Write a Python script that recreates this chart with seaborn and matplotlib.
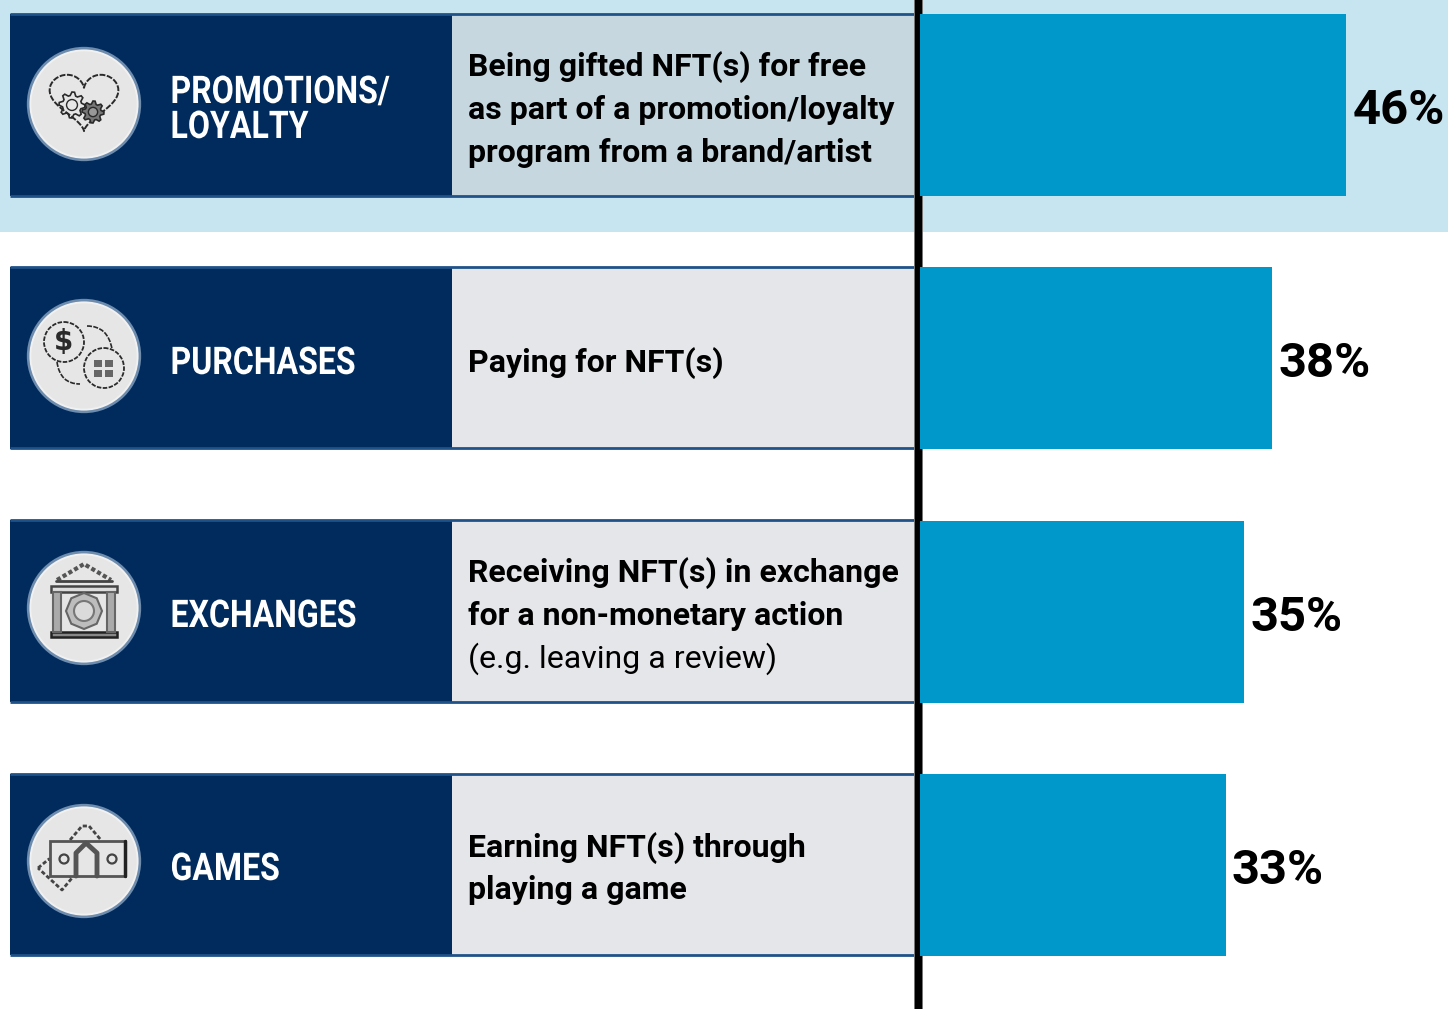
import numpy as np
import pandas as pd
import matplotlib
matplotlib.use("Agg")
import matplotlib.pyplot as plt
import seaborn as sns
from matplotlib.patches import Circle, Rectangle, RegularPolygon, PathPatch, Polygon
from matplotlib.path import Path
from matplotlib.patheffects import AbstractPathEffect
from matplotlib.transforms import Affine2D

categories = ["PROMOTIONS/\nLOYALTY", "PURCHASES", "EXCHANGES", "GAMES"]
shares = [46, 38, 35, 33]
label_lines = [["PROMOTIONS/", "LOYALTY"], ["PURCHASES"], ["EXCHANGES"], ["GAMES"]]
desc_lines = [
    ["Being gifted NFT(s) for free", "as part of a promotion/loyalty", "program from a brand/artist"],
    ["Paying for NFT(s)"],
    ["Receiving NFT(s) in exchange", "for a non-monetary action", "(e.g. leaving a review)"],
    ["Earning NFT(s) through", "playing a game"],
]
desc_weights = [
    ["bold", "bold", "bold"],
    ["bold"],
    ["bold", "bold", "normal"],
    ["bold", "bold"],
]

W, H = 1448, 1009
NAVY = "#002B5C"
NAVY_EDGE = "#1F5288"
BLUE = "#0098CB"
PALE = "#C7E5F1"
GREY = "#E4E6E9"
GREY_HI = "#C6D7DF"
ICON = "#2A2A2A"

row_top = [14.3, 267, 520.3, 773.5]
row_h = 182
label_base = [[103, 138], [374], [627], [880]]
desc_base = [[76, 119, 162], [372], [582, 625, 668], [857, 899]]
icon_y = [104, 356, 608, 861]


class Squeeze(AbstractPathEffect):
    # no condensed font here, so narrow the glyphs about the text's left edge
    def __init__(self, x0, factor):
        super().__init__()
        self.x0 = x0
        self.factor = factor

    def draw_path(self, renderer, gc, tpath, affine, rgbFace=None):
        squeeze = Affine2D().translate(-self.x0, 0).scale(self.factor, 1).translate(self.x0, 0)
        renderer.draw_path(gc, tpath, affine + squeeze, rgbFace)


def gear(ax, cx, cy, r, fill):
    ang = np.linspace(0, 2 * np.pi, 32, endpoint=False)
    rad = np.where(np.arange(32) % 4 < 2, r, r * 0.74)
    pts = np.column_stack([cx + rad * np.cos(ang), cy + rad * np.sin(ang)])
    ax.add_patch(Polygon(pts, closed=True, fc=fill, ec=ICON, lw=1.2, zorder=5))
    ax.add_patch(Circle((cx, cy), r * 0.42, fc="#E6E6E6" if fill == "none" else "#999999", ec=ICON, lw=1.0, zorder=6))


def heart(ax, cx, cy):
    t = np.linspace(0, 2 * np.pi, 80)
    x = 16 * np.sin(t) ** 3
    y = 13 * np.cos(t) - 5 * np.cos(2 * t) - 2 * np.cos(3 * t) - np.cos(4 * t)
    ax.plot(cx + x * 2.15, cy - y * 1.95 - 6, color=ICON, lw=1.4, ls=(0, (3, 0.8)), zorder=5)
    gear(ax, cx - 12, cy + 1, 13, "none")
    gear(ax, cx + 9, cy + 8, 11, "#777777")


def arrows_icon(ax, cx, cy):
    ax.add_patch(Circle((cx - 20, cy - 14), 20, fc="none", ec=ICON, lw=1.3, ls=(0, (2.5, 0.8)), zorder=5))
    ax.add_patch(Circle((cx + 20, cy + 12), 20, fc="none", ec=ICON, lw=1.3, ls=(0, (2.5, 0.8)), zorder=5))
    ax.text(cx - 20, cy - 14, "$", fontsize=20, fontweight="bold", color=ICON,
            ha="center", va="center", family="DejaVu Sans", zorder=6)
    for dx in (-10, 1):
        for dy in (-8, 2):
            ax.add_patch(Rectangle((cx + 20 + dx, cy + 12 + dy), 8, 7, fc="#666666", ec="none", zorder=6))
    ax.add_patch(PathPatch(Path([(cx + 3, cy - 30), (cx + 24, cy - 30), (cx + 28, cy - 7)],
                                [Path.MOVETO, Path.CURVE3, Path.CURVE3]),
                           fc="none", ec=ICON, lw=1.2, ls=(0, (3, 0.8)), zorder=5))
    ax.add_patch(PathPatch(Path([(cx - 27, cy + 6), (cx - 24, cy + 28), (cx - 4, cy + 28)],
                                [Path.MOVETO, Path.CURVE3, Path.CURVE3]),
                           fc="none", ec=ICON, lw=1.2, ls=(0, (3, 0.8)), zorder=5))


def bank_icon(ax, cx, cy):
    ax.plot([cx - 27, cx, cx + 27], [cy - 28, cy - 44, cy - 28], color="#555555", lw=3, ls=(0, (1, 0.6)), zorder=5)
    ax.plot([cx - 28, cx + 28], [cy - 27, cy - 27], color="#444444", lw=2, zorder=5)
    ax.add_patch(Rectangle((cx - 33, cy - 22), 66, 6, fc="#DDDDDD", ec="#444444", lw=1.8, zorder=5))
    ax.add_patch(Rectangle((cx - 33, cy + 24), 66, 5, fc="#888888", ec="#222222", lw=1.8, zorder=5))
    for left in (-31, 23):
        ax.add_patch(Rectangle((cx + left, cy - 16), 8, 40, fc="#AAAAAA", ec="#666666", lw=1.5, zorder=5))
    ax.add_patch(RegularPolygon((cx, cy + 3), 8, radius=18, fc="#BDBDBD", ec="#666666", lw=1.5, zorder=5))
    ax.add_patch(Circle((cx, cy + 3), 10, fc="#DADADA", ec="#777777", lw=1.5, zorder=6))


def money_icon(ax, cx, cy):
    ax.plot([cx - 46, cx - 35, cx - 12, cx - 22, cx - 46], [cy + 7, cy - 2, cy + 17, cy + 29, cy + 7],
            color="#444444", lw=2, ls=(0, (1.5, 0.8)), zorder=5)
    ax.plot([cx - 14, cx - 2, cx + 5, cx + 17], [cy - 21, cy - 35, cy - 35, cy - 21],
            color="#444444", lw=2, ls=(0, (1.5, 0.8)), zorder=5)
    ax.add_patch(Rectangle((cx - 34, cy - 20), 75, 35, fc="#E6E6E6", ec="#555555", lw=2, zorder=6))
    ax.plot([cx + 41, cx + 41], [cy - 20, cy + 15], color="#222222", lw=2.5, zorder=7)
    ax.plot([cx - 8, cx - 8, cx + 2, cx + 13, cx + 13], [cy + 15, cy - 8, cy - 18, cy - 8, cy + 15],
            color="#555555", lw=3.5, zorder=7)
    ax.add_patch(Circle((cx - 20, cy - 2), 4.5, fc="none", ec="#444444", lw=1.6, zorder=7))
    ax.add_patch(Circle((cx + 28, cy - 2), 4.5, fc="none", ec="#444444", lw=1.6, zorder=7))


sns.set_theme(style="white")
plt.rcParams["font.family"] = ["Roboto", "DejaVu Sans"]

fig = plt.figure(figsize=(W / 100, H / 100), dpi=100, facecolor="white")

# background panels, in pixel units
bg = fig.add_axes([0, 0, 1, 1])
bg.set_xlim(0, W)
bg.set_ylim(H, 0)
bg.axis("off")

bg.add_patch(Rectangle((0, 0), W, 232, fc=PALE, ec="none", zorder=0))

for i in range(len(categories)):
    top = row_top[i]
    bg.add_patch(Rectangle((10, top), 441.7, row_h - 0.5, fc=NAVY, ec="none", zorder=1))
    bg.add_patch(Rectangle((451.7, top), 463.3, row_h - 0.5, fc=GREY_HI if i == 0 else GREY, ec="none", zorder=1))
    for yy in (top, top + row_h - 0.7):
        bg.plot([10, 915], [yy, yy], color=NAVY_EDGE, lw=2.0, solid_capstyle="butt", zorder=2)
    bg.add_patch(Circle((84, icon_y[i]), 55.5, fc="#E6E6E6", ec="#6E8CAD", lw=2.4, zorder=3))
    bg.add_patch(Circle((84, icon_y[i]), 53.6, fc="none", ec="#F1F1F1", lw=1.4, zorder=3))

    for line, yy in zip(label_lines[i], label_base[i]):
        bg.text(170.5, yy, line, color="white", fontsize=27.5, fontweight="bold",
                ha="left", va="baseline", zorder=4, path_effects=[Squeeze(170.5, 0.84)])
    for line, yy, wt in zip(desc_lines[i], desc_base[i], desc_weights[i]):
        bg.text(467.5, yy, line, color="black", fontsize=23.0, fontweight=wt,
                ha="left", va="baseline", zorder=4)

heart(bg, 84, 104)
arrows_icon(bg, 84, 356)
bank_icon(bg, 84, 608)
money_icon(bg, 84, 861)

# divider sits below the bars
bg.add_patch(Rectangle((914, 0), 9, H, fc="#777777", ec="none", zorder=2))
bg.add_patch(Rectangle((915, 0), 7, H, fc="black", ec="none", zorder=3))

# bars
x0 = 919.5
px_per_pct = 9.28
step = 253.33
ax = fig.add_axes([x0 / W, 0, 1 - x0 / W, 1])
ax.patch.set_alpha(0)
df = pd.DataFrame({"category": categories, "share": shares})
sns.barplot(data=df, x="share", y="category", order=categories, color=BLUE,
            saturation=1, width=row_h / step, linewidth=0, ax=ax)
ax.set_xlim(0, (W - x0) / px_per_pct)
ax.set_ylim((H - 105) / step, -105 / step)
value_labels = ax.bar_label(ax.containers[0], fmt="%d%%", padding=4.5, fontsize=35.3,
                            fontweight="bold", color="black")
for lab in value_labels:
    lab.xyann = (4.5, -4.3)
ax.set_xlabel("")
ax.set_ylabel("")
ax.set_xticks([])
ax.set_yticks([])
sns.despine(ax=ax, left=True, bottom=True)

fig.savefig("out.png", dpi=100)
